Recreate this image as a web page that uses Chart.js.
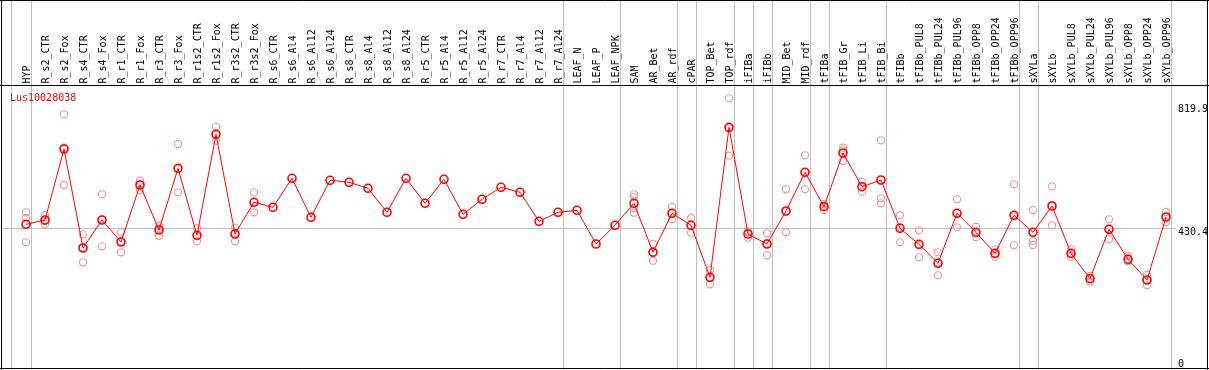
<!DOCTYPE html>
<html>
<head>
<meta charset="utf-8">
<script src="https://cdn.jsdelivr.net/npm/chart.js@4/dist/chart.umd.min.js"></script>
<style>
  html, body { margin: 0; padding: 0; background: #ffffff; }
  #wrap { width: 1209px; height: 370px; }
</style>
</head>
<body>
<div id="wrap"><canvas id="c" width="1209" height="370"></canvas></div>
<script>
// ---------- data ----------
const geneName = "Lus10028038";

const categories = [
  "HYP","R_s2_CTR","R_s2_Fox","R_s4_CTR","R_s4_Fox","R_r1_CTR","R_r1_Fox","R_r3_CTR","R_r3_Fox",
  "R_r1s2_CTR","R_r1s2_Fox","R_r3s2_CTR","R_r3s2_Fox","R_s6_CTR","R_s6_Al4","R_s6_Al12","R_s6_Al24",
  "R_s8_CTR","R_s8_Al4","R_s8_Al12","R_s8_Al24","R_r5_CTR","R_r5_Al4","R_r5_Al12","R_r5_Al24",
  "R_r7_CTR","R_r7_Al4","R_r7_Al12","R_r7_Al24","LEAF_N","LEAF_P","LEAF_NPK","SAM","AR_Bet","AR_rdf",
  "cPAR","TOP_Bet","TOP_rdf","iFIBa","iFIBb","MID_Bet","MID_rdf","tFIBa","tFIB_Gr","tFIB_Li","tFIB_Bi",
  "tFIBb","tFIBb_PUL8","tFIBb_PUL24","tFIBb_PUL96","tFIBb_OPP8","tFIBb_OPP24","tFIBb_OPP96",
  "sXYLa","sXYLb","sXYLb_PUL8","sXYLb_PUL24","sXYLb_PUL96","sXYLb_OPP8","sXYLb_OPP24","sXYLb_OPP96"
];

const meanValues = [
  441.1, 454.7, 678.2, 366.5, 454.7, 385.4, 564.9, 423.2, 617.4,
  406.5, 724.5, 410.6, 510.4, 494.6, 586.0, 463.2, 579.7,
  573.4, 554.5, 478.9, 586.0, 507.2, 582.8, 472.6, 519.8,
  557.6, 541.9, 450.6, 478.9, 485.2, 379.1, 438.0, 507.2, 353.0, 475.7,
  438.0, 274.2, 746.5, 410.6, 379.1, 483.0, 604.8, 496.5, 665.6, 559.5, 580.6,
  428.5, 378.1, 318.3, 475.7, 415.9, 349.8, 469.5,
  415.9, 498.7, 349.8, 269.8, 425.4, 330.9, 265.7, 464.1
];

const replicateValues = [
  [478.9, 461.0, 384.4],
  [470.4, 452.4, 441.1],
  [787.5, 682.3, 564.9],
  [409.6, 368.4, 321.5],
  [535.6, 456.5, 371.8],
  [415.9, 387.3, 353.0],
  [578.4, 567.1, 549.1],
  [436.7, 427.6, 405.2],
  [693.9, 616.2, 541.9],
  [428.5, 403.0, 387.6],
  [748.4, 722.3, 704.3],
  [430.4, 413.7, 387.6],
  [541.9, 510.4, 478.9],
  [], [], [], [], [], [], [], [], [], [], [], [], [], [], [], [], [], [], [],
  [535.6, 527.1, 491.5, 477.6],
  [379.1, 353.0, 326.5],
  [495.6, 474.5, 456.9],
  [461.0, 438.0, 414.7],
  [297.2, 273.0, 252.2],
  [837.8, 744.3, 657.1],
  [417.8, 415.0, 398.9],
  [412.8, 381.0, 343.5],
  [551.3, 481.7, 415.9],
  [658.4, 604.5, 551.3],
  [505.0, 498.7, 486.1],
  [682.3, 674.1, 640.4],
  [575.2, 559.8, 543.8],
  [705.6, 523.0, 507.2],
  [469.5, 431.7, 384.4],
  [422.2, 375.0, 337.2],
  [353.0, 321.5, 280.5],
  [519.8, 475.7, 431.7],
  [433.6, 413.7, 400.2],
  [362.4, 347.6, 339.1],
  [567.1, 466.3, 375.0],
  [486.1, 388.5, 375.9],
  [560.8, 497.5, 438.0],
  [362.4, 347.6, 339.1],
  [278.3, 270.8, 260.4],
  [456.9, 425.4, 393.9],
  [341.3, 325.6, 325.6],
  [282.4, 265.7, 249.1],
  [479.8, 464.1, 448.4]
];

const yTickValues = [819.9, 430.4, 0];
const referenceValue = 430.4;
// index of the last category of each group (a separator is drawn after it)
const groupEnds = [0, 28, 31, 34, 35, 37, 38, 39, 41, 42, 45, 52, 53, 60];

// ---------- build datasets ----------
const meanPoints = meanValues.map((v, i) => ({ x: i, y: v }));
const repPoints = [];
replicateValues.forEach((arr, i) => arr.forEach(v => repPoints.push({ x: i, y: v })));

const FONT = "10px 'DejaVu Sans Mono', monospace";

const decor = {
  id: 'decor',
  beforeDatasetsDraw(chart) {
    const ctx = chart.ctx;
    const xs = chart.scales.x, ys = chart.scales.y;
    ctx.save();
    ctx.strokeStyle = '#c0c0c0';
    ctx.lineWidth = 1;
    const seps = [-0.8].concat(groupEnds.map(g => g + 0.25));
    seps.forEach(s => {
      const px = Math.round(xs.getPixelForValue(s)) + 0.5;
      ctx.beginPath();
      ctx.moveTo(px, 0);
      ctx.lineTo(px, 370);
      ctx.stroke();
    });
    const ry = Math.round(ys.getPixelForValue(referenceValue)) + 0.5;
    ctx.beginPath();
    ctx.moveTo(1, ry);
    ctx.lineTo(1176, ry);
    ctx.stroke();
    ctx.restore();
  },
  afterDraw(chart) {
    const ctx = chart.ctx;
    const xs = chart.scales.x, ys = chart.scales.y;
    ctx.save();
    ctx.font = FONT;
    ctx.fillStyle = '#000000';
    ctx.textAlign = 'left';
    ctx.textBaseline = 'alphabetic';
    categories.forEach((c, i) => {
      const px = xs.getPixelForValue(i);
      ctx.save();
      ctx.translate(Math.round(px) + 4, 83.5);
      ctx.rotate(-Math.PI / 2);
      ctx.fillText(c, 0, 0);
      ctx.restore();
    });
    ctx.textBaseline = 'top';
    yTickValues.forEach(v => {
      let py = ys.getPixelForValue(v);
      py = Math.min(py, 359);
      ctx.fillText(String(v), 1178, py);
    });
    ctx.fillStyle = '#ff0000';
    ctx.fillText(geneName, 10, 93);
    ctx.strokeStyle = '#000000';
    ctx.lineWidth = 1;
    ctx.beginPath();
    ctx.moveTo(0, 0.5); ctx.lineTo(1209, 0.5);
    ctx.moveTo(0, 85.5); ctx.lineTo(1209, 85.5);
    ctx.moveTo(0, 368.5); ctx.lineTo(1209, 368.5);
    ctx.moveTo(1.5, 0); ctx.lineTo(1.5, 370);
    ctx.moveTo(1207.5, 0); ctx.lineTo(1207.5, 370);
    ctx.stroke();
    ctx.restore();
  }
};

new Chart(document.getElementById('c'), {
  type: 'line',
  data: {
    datasets: [
      {
        label: 'mean',
        data: meanPoints,
        order: 0,
        borderColor: '#ff0000',
        borderWidth: 1,
        tension: 0,
        pointStyle: 'circle',
        pointRadius: 4,
        pointBorderWidth: 1.6,
        pointBorderColor: '#ff0000',
        pointBackgroundColor: 'rgba(0,0,0,0)',
        fill: false
      },
      {
        label: 'replicates',
        data: repPoints,
        order: 1,
        showLine: false,
        pointStyle: 'circle',
        pointRadius: 3.6,
        pointBorderWidth: 1.1,
        pointBorderColor: '#ef9a9a',
        pointBackgroundColor: 'rgba(0,0,0,0)'
      }
    ]
  },
  options: {
    responsive: false,
    animation: false,
    devicePixelRatio: 1,
    layout: { padding: 0, autoPadding: false },
    plugins: { legend: { display: false }, tooltip: { enabled: false }, title: { display: false } },
    scales: {
      x: { type: 'linear', display: false, min: -26 / 19, max: (1209 - 26) / 19 },
      y: { type: 'linear', display: false, min: (364.4 - 370) / 0.3176, max: 364.4 / 0.3176 }
    }
  },
  plugins: [decor]
});
</script>
</body>
</html>
